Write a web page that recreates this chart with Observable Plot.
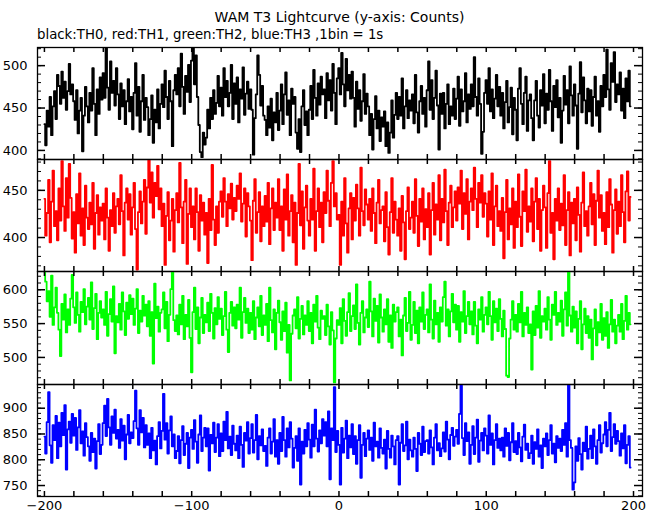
<!DOCTYPE html>
<html>
<head>
<meta charset="utf-8">
<script src="https://cdn.jsdelivr.net/npm/d3@7"></script>
<script src="https://cdn.jsdelivr.net/npm/@observablehq/plot@0.6"></script>
<style>
  body { margin: 0; background: #fff; }
  #chart { position: relative; width: 660px; height: 515px; background: #fff; font-family: "DejaVu Sans", sans-serif; }
  #chart svg { position: absolute; left: 0; }
</style>
</head>
<body>
<div id="chart"></div>
<script>
// ---- data (counts per 1 s bin) ----
const titleText = "WAM T3 Lightcurve (y-axis: Counts)";
const subtitleText = "black:TH0, red:TH1, green:TH2, blue:TH3 ,1bin = 1s";
const firstBin = -200;   // seconds
const binSize = 1;       // seconds

const th0 = [
431,406,447,428,463,418,452,470,437,489,
476,455,493,462,481,448,470,502,466,478,
458,436,471,420,447,462,399,441,475,452,
433,468,447,497,455,418,472,443,486,460,
491,462,521,474,448,505,468,482,453,497,
466,437,479,452,471,431,458,484,446,463,
425,468,503,441,475,422,458,489,436,462,
451,418,437,465,409,448,433,472,426,455,
478,451,494,463,437,482,458,405,471,489,
466,497,452,514,475,443,488,469,501,457,
506,521,478,512,463,430,398,392,421,407,
415,448,426,462,437,471,443,456,488,452,
474,441,497,463,482,452,468,501,437,479,
455,486,433,472,461,498,442,467,481,449,
472,448,395,438,466,512,489,453,476,441,
436,418,452,427,461,412,445,433,468,424,
447,478,431,466,492,442,459,418,473,455,
463,421,402,437,398,452,471,430,446,418,
448,476,437,495,462,441,479,454,487,466,
472,438,491,459,483,447,502,468,431,485,
497,466,515,478,452,508,471,489,461,493,
462,428,481,449,471,435,458,490,443,467,
452,418,443,401,437,464,426,447,411,439,
428,446,405,433,397,421,459,415,442,468,
437,463,441,485,426,452,471,438,459,447,
466,432,489,445,421,458,476,443,462,428,
471,505,448,483,437,462,494,453,401,467,
443,468,426,455,478,431,452,441,473,437,
461,487,429,472,446,458,491,433,466,449,
478,452,510,463,441,485,455,396,422,468,
483,455,497,446,472,438,461,489,452,475,
441,468,426,457,482,433,451,474,419,462,
448,412,473,497,455,431,468,487,423,459,
466,438,412,459,482,441,427,471,453,490,
432,467,448,495,458,423,476,451,483,439,
462,409,447,488,454,471,432,499,465,441,
478,453,402,467,504,445,486,459,432,473,
446,471,429,463,487,441,458,422,476,452,
489,463,519,472,448,503,481,516,457,478,
466,492,447,473,438,485,458,494,452
];

const th1 = [
441,402,426,461,395,438,471,412,428,397,
452,418,481,433,407,463,421,478,442,399,
427,384,446,415,468,402,431,392,455,421,
409,437,414,458,388,426,445,403,432,418,
436,398,452,421,386,429,412,447,405,433,
441,414,466,428,381,437,452,419,446,403,
432,458,409,366,427,449,415,438,461,404,
453,482,437,469,421,458,444,476,430,452,
412,436,371,423,448,397,418,441,385,429,
447,416,479,432,394,438,461,372,425,452,
411,433,398,452,427,386,445,418,437,403,
426,373,441,408,477,419,392,433,405,438,
449,422,463,438,412,446,431,457,419,442,
428,455,441,468,417,436,452,401,447,433,
418,376,439,462,405,427,448,396,433,412,
444,417,458,393,431,452,408,437,421,462,
408,433,386,451,419,467,402,428,445,395,
437,371,426,478,413,449,388,432,455,418,
402,441,419,473,386,428,452,411,437,395,
448,426,471,439,412,458,481,433,447,419,
424,371,438,402,463,415,384,431,447,398,
442,418,456,431,402,474,428,413,451,435,
419,441,407,452,426,394,437,461,415,429,
433,396,448,411,382,427,463,405,438,419,
402,431,386,444,416,377,428,453,409,421,
438,405,462,423,391,441,417,452,398,430,
411,447,382,429,458,403,435,419,466,397,
441,416,472,428,392,437,455,411,432,449,
418,453,436,471,409,447,425,462,398,438,
452,429,474,441,411,458,437,466,422,447,
436,401,449,419,468,392,433,455,412,428,
407,442,378,427,461,398,431,414,452,389,
438,411,467,422,391,449,428,472,406,433,
417,452,396,438,463,409,441,386,429,455,
432,389,447,481,405,426,377,441,418,452,
408,436,413,466,392,429,448,381,437,415,
441,397,453,424,385,437,469,412,428,402,
433,458,414,446,392,439,471,421,445,407,
426,393,448,411,462,435,384,429,451,404,
438,412,466,427,395,449,470,418,443
];

const th2 = [
627,612,583,598,560,621,548,574,603,566,
541,502,579,556,593,537,571,548,587,622,
574,551,596,563,538,582,567,601,549,575,
588,556,611,542,573,594,527,566,583,559,
571,548,597,532,564,586,553,605,506,561,
552,579,541,596,568,533,581,557,592,564,
587,548,572,601,536,569,553,591,562,578,
546,583,532,567,491,609,558,575,538,566,
571,596,543,582,524,563,601,626,555,539,
562,534,578,549,591,527,563,546,585,529,
478,567,603,542,574,521,559,588,536,563,
552,581,539,594,566,528,573,549,589,557,
572,533,561,597,541,508,566,582,547,574,
543,578,556,603,529,567,588,551,572,536,
566,541,583,527,559,574,546,591,533,562,
548,579,524,603,555,537,571,512,566,584,
552,526,568,539,581,507,548,466,535,562,
571,543,589,528,557,576,534,562,548,583,
539,566,521,578,553,591,544,527,569,557,
561,533,578,546,519,567,540,463,528,555,
548,573,521,586,554,532,567,595,539,561,
577,542,608,551,519,566,583,537,559,571,
545,612,568,531,587,554,576,522,593,559,
538,571,549,586,523,562,514,578,553,567,
574,531,556,503,562,588,539,551,597,526,
548,582,536,569,521,574,553,596,542,563,
571,537,608,556,528,584,549,566,523,574,
553,589,612,547,571,531,568,594,552,578,
541,576,523,567,553,598,536,561,582,549,
568,534,582,547,521,571,556,589,538,563,
574,549,597,561,526,583,552,572,539,586,
557,531,569,542,473,471,528,556,583,541,
563,538,579,552,597,531,566,548,574,536,
549,482,568,533,576,544,598,529,561,553,
572,541,589,556,526,578,563,597,548,566,
553,584,532,571,596,547,627,562,538,575,
544,568,521,557,583,512,549,572,536,561,
529,556,497,543,571,518,552,537,579,526,
558,532,567,514,549,585,538,556,521,547,
563,538,579,527,554,591,541,566,549
];

const th3 = [
845,812,873,931,828,794,867,838,885,803,
872,826,891,848,906,781,859,874,833,889,
847,881,819,863,896,832,855,808,871,844,
826,798,852,815,841,783,836,869,811,829,
871,905,846,918,863,829,884,852,897,841,
858,823,879,837,866,801,849,887,832,853,
842,875,934,861,829,896,853,881,824,867,
829,851,803,862,818,837,791,846,873,822,
856,928,839,871,812,857,884,826,849,803,
817,846,793,838,865,809,831,852,784,843,
858,821,877,835,794,849,886,817,843,862,
826,861,779,848,832,872,815,843,869,807,
851,817,874,838,893,822,845,809,866,831,
818,847,803,864,829,786,852,837,873,812,
842,869,814,838,887,801,846,828,859,817,
827,788,843,861,812,835,879,806,838,792,
852,817,883,838,806,861,824,873,841,785,
823,846,798,861,752,835,812,858,826,871,
839,804,868,826,897,841,816,857,832,879,
847,873,826,894,762,861,838,941,815,856,
829,752,862,814,841,876,803,847,824,869,
811,846,792,838,867,765,829,852,807,841,
857,819,843,798,872,826,835,804,861,823,
812,839,783,856,821,804,847,826,791,838,
846,752,833,869,817,828,874,801,839,818,
806,843,821,778,852,831,809,864,815,836,
838,812,857,824,791,843,869,818,832,807,
822,853,816,874,839,801,848,862,827,845,
858,831,889,944,842,809,871,836,853,792,
829,865,811,843,878,796,837,852,818,861,
847,812,886,829,851,791,838,869,823,841,
818,843,806,861,827,852,799,834,871,815,
836,811,852,824,797,845,868,819,831,803,
813,847,792,834,821,859,806,828,784,841,
826,851,809,838,867,812,831,795,846,823,
841,817,858,829,871,806,946,838,823,742,
756,826,798,842,811,781,833,817,864,802,
821,847,803,859,826,792,838,867,814,832,
849,873,826,858,891,817,844,869,831,856,
836,808,851,822,867,793,829,846,785
];

const seriesNames = ["TH0", "TH1", "TH2", "TH3"];
const seriesColors = ["#000000", "#ff0000", "#00ff00", "#0000ff"];
const seriesValues = [th0, th1, th2, th3];
const yDomains = [[389.3, 521.4], [364, 482.7], [460, 627], [728.7, 946]];
const yMajorTicks = [[400, 450, 500], [400, 450], [500, 550, 600], [750, 800, 850, 900]];
const yMinorStep = 10;
const xDomain = [-204.7, 206.1];
const xTickValues = d3.range(-200, 201, 20);
const xLabelValues = [-200, -100, 0, 100, 200];

// ---- layout ----
const W = 660, ML = 37, MR = 18;
const panelTops = [47, 159, 271, 384];
const panelBottoms = [159, 271, 384, 496];
const innerW = W - ML - MR;
const chart = document.getElementById("chart");

// header (title + subtitle)
const ns = "http://www.w3.org/2000/svg";
const head = document.createElementNS(ns, "svg");
head.setAttribute("width", W);
head.setAttribute("height", 46);
head.style.top = "0px";
const t1 = document.createElementNS(ns, "text");
t1.setAttribute("x", (ML + W - MR) / 2);
t1.setAttribute("y", 22);
t1.setAttribute("text-anchor", "middle");
t1.setAttribute("font-size", "14");
t1.setAttribute("font-family", "DejaVu Sans, sans-serif");
t1.textContent = titleText;
const t2 = document.createElementNS(ns, "text");
t2.setAttribute("x", ML);
t2.setAttribute("y", 39);
t2.setAttribute("font-size", "13.3");
t2.setAttribute("font-family", "DejaVu Sans, sans-serif");
t2.textContent = subtitleText;
head.appendChild(t1);
head.appendChild(t2);
chart.appendChild(head);

seriesValues.forEach((vals, i) => {
  const data = vals.map((v, k) => ({t: firstBin + k * binSize, v, s: seriesNames[i]}));
  const top = panelTops[i], bottom = panelBottoms[i];
  const innerH = bottom - top;
  const isLast = i === seriesValues.length - 1;
  const mt = 6, mb = isLast ? 24 : 6;
  const [y0, y1] = yDomains[i];
  const minor = d3.range(Math.ceil(y0 / yMinorStep) * yMinorStep, y1, yMinorStep);
  const marks = [
    Plot.line(data, {x: "t", y: "v", curve: "step", stroke: seriesColors[i], strokeWidth: 1.8, clip: true}),
    Plot.tickY(minor, {y: d => d, insetRight: innerW - 4, stroke: "black"}),
    Plot.tickY(minor, {y: d => d, insetLeft: innerW - 4, stroke: "black"}),
    Plot.tickY(yMajorTicks[i], {y: d => d, insetRight: innerW - 8, stroke: "black", strokeWidth: 1.5}),
    Plot.tickY(yMajorTicks[i], {y: d => d, insetLeft: innerW - 8, stroke: "black", strokeWidth: 1.5}),
    Plot.tickX(xTickValues, {x: d => d, insetBottom: innerH - 5, stroke: "black", strokeWidth: 1.5}),
    Plot.tickX(xTickValues, {x: d => d, insetTop: innerH - 5, stroke: "black", strokeWidth: 1.5}),
    Plot.axisY(yMajorTicks[i], {anchor: "left", tickSize: 0, tickPadding: 10, fontSize: 13, label: null}),
    Plot.frame({stroke: "black", strokeWidth: 1.3})
  ];
  if (isLast) marks.push(Plot.axisX(xLabelValues, {anchor: "bottom", tickSize: 0, tickPadding: 4, fontSize: 13, label: null}));
  const plot = Plot.plot({
    width: W,
    height: innerH + mt + mb,
    marginLeft: ML,
    marginRight: MR,
    marginTop: mt,
    marginBottom: mb,
    x: isLast ? {domain: xDomain} : {domain: xDomain, axis: null},
    y: {domain: yDomains[i]},
    style: {background: "transparent", overflow: "visible", color: "black", fontFamily: "DejaVu Sans, sans-serif", fontSize: "13px"},
    marks
  });
  plot.style.position = "absolute";
  plot.style.left = "0px";
  plot.style.top = (top - mt) + "px";
  plot.style.maxWidth = "none";
  chart.appendChild(plot);
});
</script>
</body>
</html>
